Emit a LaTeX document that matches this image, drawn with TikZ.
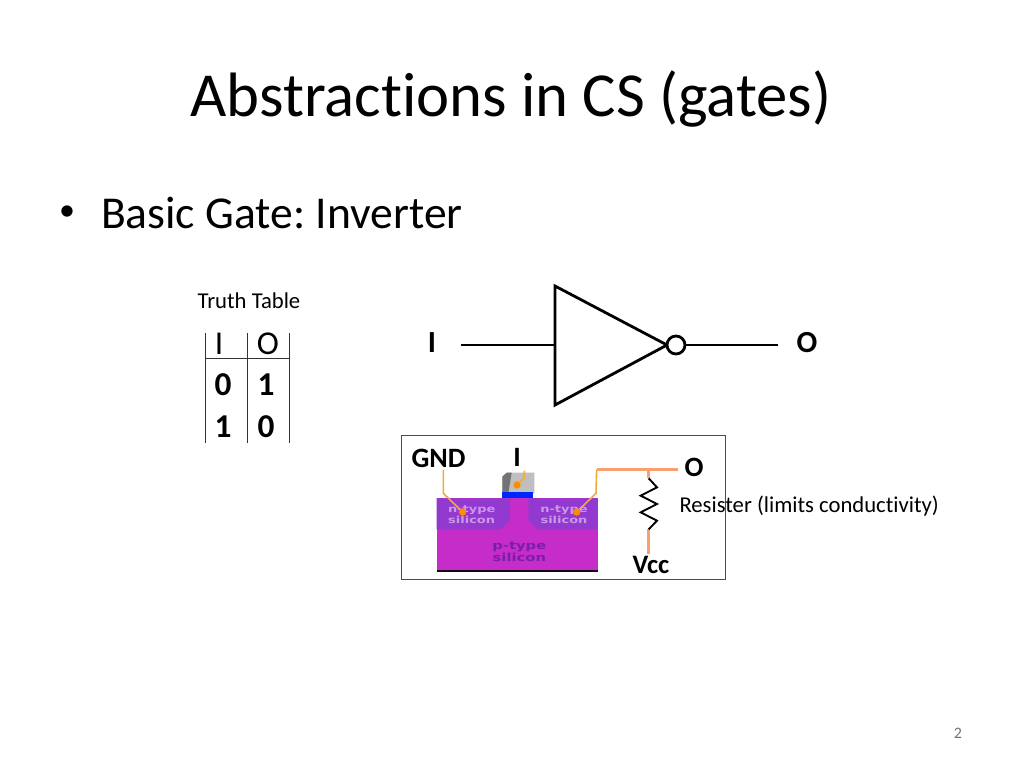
\documentclass[tikz,border=0pt]{standalone}
\usepackage{fontspec}
\setmainfont{Carlito}[Ligatures=NoCommon]
\newfontfamily\wide{DejaVu Sans}
\frenchspacing
\definecolor{psi}{RGB}{198,44,200}
\definecolor{nsi}{RGB}{146,58,208}
\definecolor{nsit}{RGB}{205,150,235}
\definecolor{psit}{RGB}{120,30,170}
\definecolor{wirec}{RGB}{250,160,110}
\definecolor{thinc}{RGB}{240,170,60}
\tikzset{
 txt/.style={inner sep=0pt,outer sep=0pt,anchor=center,text=black},
 tline/.style={draw=black!80,line width=0.75pt},
 gline/.style={draw=black,line width=2.1pt},
 wire/.style={draw=wirec,line width=2pt},
 thin wire/.style={draw=thinc,line width=1.2pt},
 dot/.style={circle,fill=orange!90!yellow,inner sep=0pt,minimum size=5.5pt},
 sil/.style={txt,font=\wide\bfseries\fontsize{7.2}{8}\selectfont,align=center,xscale=1.35,transform shape},
 silp/.style={txt,font=\wide\bfseries\fontsize{8.2}{8.6}\selectfont,align=center,xscale=1.35,transform shape},
}
\begin{document}
\begin{tikzpicture}[x=0.75pt,y=-0.75pt]
\useasboundingbox[fill=white] (0,0) rectangle (1024,768);
\node[txt,font=\fontsize{47}{47}\selectfont] (title) at (511,99) {Abstractions in CS (gates)};
\node[txt,font=\fontsize{24}{24}\selectfont,anchor=west] (bullet) at (59,213) {•};
\node[txt,font=\fontsize{34.2}{34.2}\selectfont,anchor=west] (body) at (101,213) {Basic Gate: Inverter};
\node[txt,font=\fontsize{17}{17}\selectfont] (tt) at (249,301) {Truth Table};
% table
\node[txt,font=\fontsize{25}{25}\selectfont] (hi) at (219,344) {I};
\node[txt,font=\fontsize{25}{25}\selectfont] (ho) at (268,344) {O};
\node[txt,font=\bfseries\fontsize{25}{25}\selectfont] (a0) at (223,385) {0};
\node[txt,font=\bfseries\fontsize{25}{25}\selectfont] (b1) at (266,385) {1};
\node[txt,font=\bfseries\fontsize{25}{25}\selectfont] (a1) at (223,427) {1};
\node[txt,font=\bfseries\fontsize{25}{25}\selectfont] (b0) at (266,427) {0};
\draw[tline] (205,333) -- (205,443) (247,333) -- (247,443) (289,333) -- (289,443) (205,358) -- (289,358);
% inverter
\node[txt,font=\bfseries\fontsize{23}{23}\selectfont] (ilab) at (432,343) {I};
\node[txt,font=\bfseries\fontsize{23}{23}\selectfont] (olab) at (807,343) {O};
\coordinate (tl) at (555,286); \coordinate (bl) at (555,405); \coordinate (tip) at (667,345);
\coordinate (inL) at (461,345); \coordinate (inR) at (555,345); \coordinate (outR) at (778,345);
\draw[gline,line join=miter] (tl) -- (tip) -- (bl) -- cycle;
\node[circle,draw=black,line width=2.1pt,fill=white,minimum size=13.5pt,inner sep=0pt] (bub) at (676,345) {};
\draw[gline] (inL) -- (inR);
\draw[gline] (bub) -- (outR);
% device box
\node[draw=black!70,line width=0.8pt,minimum width=243pt,minimum height=108.5pt,inner sep=0pt] (box) at (563.5,507.5) {};
\begin{scope}[shift={(395,430)},x=0.25pt,y=-0.25pt]
 \fill[black!85!violet] (125,300) rectangle (608,425);
 \fill[psi] (125,205) rectangle (608,419);
 \fill[nsi] (125,205) -- (345,205) -- (345,270) -- (318,298) -- (125,298) -- cycle;
 \fill[nsi] (400,205) -- (608,205) -- (608,298) -- (428,298) -- (400,270) -- cycle;
 \fill[black!25] (322,140) -- (335,128) -- (418,128) -- (418,190) -- (322,190) -- cycle;
 \fill[black!55] (322,140) -- (335,128) -- (350,128) -- (340,190) -- (322,190) -- cycle;
 \fill[blue!85!cyan] (322,185) rectangle (415,205);
 \node[sil,text=nsit] (n1) at (230,254) {n-type\\silicon};
 \node[sil,text=nsit] (n2) at (507,254) {n-type\\silicon};
 \node[silp,text=psit] (p) at (373,365) {p-type\\silicon};
 \node[dot] (d1) at (203,246) {};
 \node[dot] (d2) at (366,165) {};
 \node[dot] (d3) at (545,246) {};
 \coordinate (g1) at (145,120); \coordinate (g2) at (145,190);
 \coordinate (i1) at (388,122); \coordinate (i2) at (388,143);
 \coordinate (o1) at (605,118); \coordinate (o2) at (603,190);
 \coordinate (o3) at (850,118); \coordinate (rt) at (761,118); \coordinate (r1) at (761,145);
 \coordinate (r2) at (761,298); \coordinate (r3) at (761,372);
 \draw[thin wire] (g1) -- (g2) -- (d1);
 \draw[thin wire] (i1) -- (i2) -- (d2);
 \draw[thin wire] (d3) -- (o2) -- (o1);
 \draw[wire] (o1) -- (o3);
 \draw[wire] (rt) -- (r1);
 \draw[wire] (r2) -- (r3);
 \draw[black,line width=1.4pt,line join=miter] (r1) -- (786,172) -- (737,197) -- (786,222) -- (737,247) -- (786,272) -- (r2);
\end{scope}
\node[txt,font=\bfseries\fontsize{21}{21}\selectfont] (gnd) at (438.5,458) {GND};
\node[txt,font=\bfseries\fontsize{21}{21}\selectfont] (i2lab) at (517,457) {I};
\node[txt,font=\bfseries\fontsize{21}{21}\selectfont] (o2lab) at (694,467) {O};
\node[txt,font=\bfseries\fontsize{20}{20}\selectfont] (vcc) at (651,565) {Vcc};
\node[txt,font=\fontsize{17}{17}\selectfont,anchor=west] (res) at (679.5,506) {Resister (limits conductivity)};
\node[txt,font=\fontsize{12}{12}\selectfont,text=black!55] (pg) at (958,733) {2};
\end{tikzpicture}
\end{document}
